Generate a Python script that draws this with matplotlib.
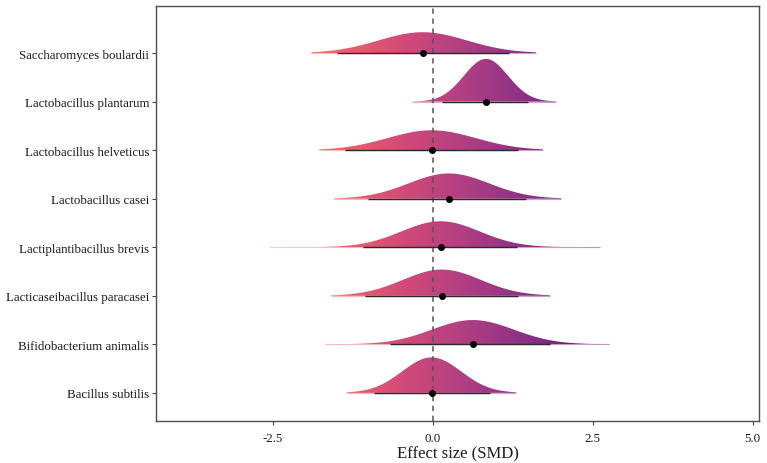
import numpy as np
import matplotlib
matplotlib.use('Agg')
import matplotlib.pyplot as plt
from matplotlib.colors import LinearSegmentedColormap, Normalize
from matplotlib.patches import Polygon
from matplotlib.collections import LineCollection

# rows listed bottom -> top
strains = ['Bacillus subtilis', 'Bifidobacterium animalis', 'Lacticaseibacillus paracasei',
           'Lactiplantibacillus brevis', 'Lactobacillus casei', 'Lactobacillus helveticus',
           'Lactobacillus plantarum', 'Saccharomyces boulardii']
smd = [-0.02, 0.625, 0.14, 0.12, 0.25, -0.02, 0.83, -0.16]
ci_low = [-0.92, -0.675, -1.06, -1.10, -1.01, -1.375, 0.14, -1.50]
ci_high = [0.89, 1.83, 1.33, 1.31, 1.46, 1.33, 1.49, 1.19]
tail_low = [-1.35, -1.69, -1.60, -2.56, -1.55, -1.78, -0.33, -1.90]
tail_high = [1.30, 2.76, 1.83, 2.61, 2.01, 1.72, 1.93, 1.61]
sd = [0.46, 0.64, 0.61, 0.615, 0.63, 0.69, 0.345, 0.69]
peak = [0.73, 0.50, 0.54, 0.535, 0.52, 0.41, 0.88, 0.43]

x_ticks = [-2.5, 0.0, 2.5, 5.0]

plt.rcParams['font.family'] = ['Liberation Serif', 'DejaVu Serif']

cmap = LinearSegmentedColormap.from_list(
    'slab', ['#f9c39a', '#f58a6c', '#ea6169', '#d24a78', '#b13f82', '#8f3286', '#6a1f80', '#4a1470'])
norm = Normalize(vmin=-3.2, vmax=3.2)

fig = plt.figure(figsize=(7.67, 4.64), dpi=100)
ax = fig.add_axes([0.2034, 0.0905, 0.7862, 0.8944])

xmin, xmax = -4.33, 5.1
ymin, ymax = 0.42, 8.97
grad = np.linspace(xmin, xmax, 800).reshape(1, -1)

for i in range(len(strains)):
    base = i + 1
    xs = np.linspace(tail_low[i], tail_high[i], 400)
    h = peak[i] * np.exp(-0.5 * ((xs - smd[i]) / sd[i]) ** 2)
    verts = np.column_stack([np.r_[xs, xs[::-1]], np.r_[base + h, np.full(len(xs), base)]])
    poly = Polygon(verts, closed=True, facecolor='none', edgecolor='none')
    ax.add_patch(poly)
    im = ax.imshow(grad, cmap=cmap, norm=norm, extent=[xmin, xmax, base, base + peak[i] + 0.05],
                   aspect='auto', origin='lower', zorder=2, interpolation='bilinear')
    im.set_clip_path(poly)

    # thin tail line along the base
    pts = np.column_stack([xs, np.full(len(xs), base)])
    segs = np.stack([pts[:-1], pts[1:]], axis=1)
    lc = LineCollection(segs, colors=cmap(norm(xs[:-1])), linewidths=0.8, alpha=0.5, zorder=2)
    ax.add_collection(lc)

    ax.plot([ci_low[i], ci_high[i]], [base, base], color='#2a2a2a', lw=1.0, zorder=4,
            solid_capstyle='butt')
    ax.plot(smd[i], base, 'o', color='black', ms=4.0, zorder=5)

ax.axvline(0, color='#555555', lw=1.1, ls=(0, (3.5, 3)), zorder=3)

ax.set_xlim(xmin, xmax)
ax.set_ylim(ymin, ymax)
ax.set_xticks(x_ticks)
ax.set_xticklabels(['-2.5', '0.0', '2.5', '5.0'])
ax.set_yticks(range(1, len(strains) + 1))
ax.set_yticklabels(strains)
ax.tick_params(axis='both', length=3, width=0.8, color='#444444', labelsize=9.3,
               labelcolor='#1a1a1a')
ax.tick_params(axis='x', pad=5)
ax.tick_params(axis='y', pad=2)
for s in ax.spines.values():
    s.set_color('#4d4d4d')
    s.set_linewidth(1.0)
ax.set_xlabel('Effect size (SMD)', fontsize=12, color='#1a1a1a', labelpad=1)

plt.savefig('out.png', dpi=100)
